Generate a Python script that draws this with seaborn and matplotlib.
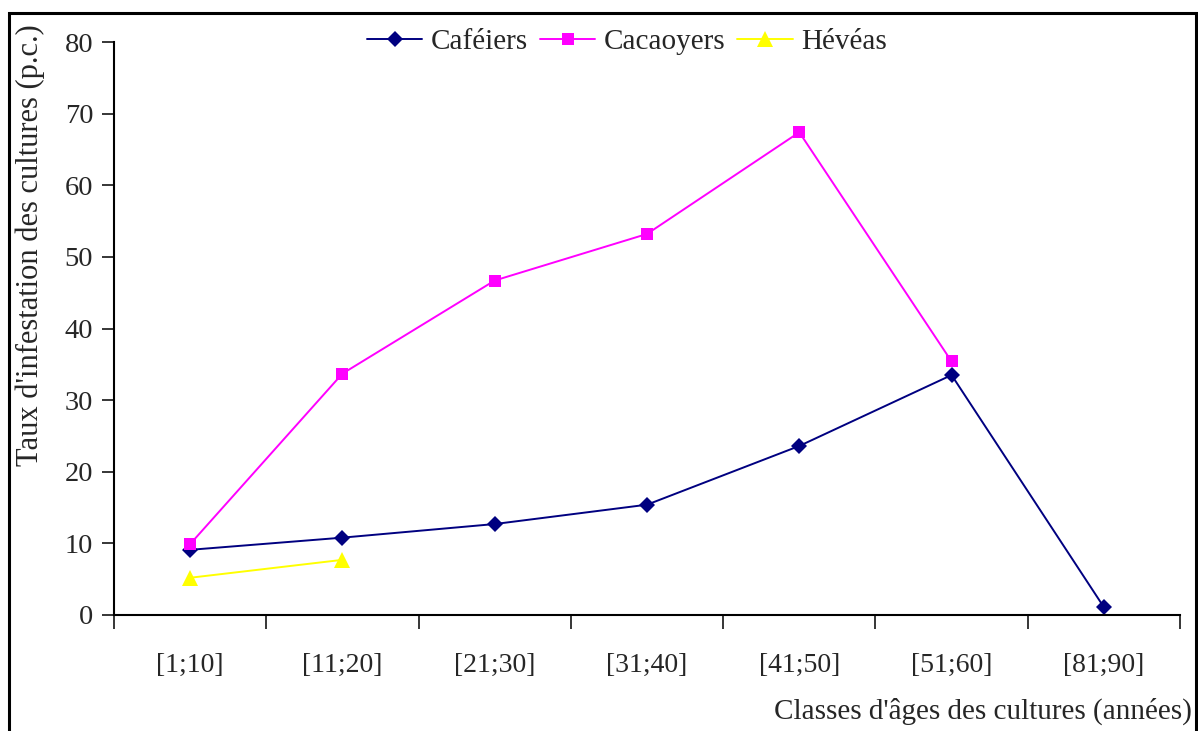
import numpy as np
import pandas as pd
import seaborn as sns
import matplotlib.pyplot as plt
from matplotlib.patches import Rectangle

# classes d'âges (catégories) et taux d'infestation
classes = ["[1;10]", "[11;20]", "[21;30]", "[31;40]", "[41;50]", "[51;60]", "[81;90]"]
cafeiers = [9.1, 10.8, 12.7, 15.4, 23.6, 33.5, 1.1]
cacaoyers = [9.9, 33.7, 46.7, 53.2, 67.4, 35.4, np.nan]
heveas = [5.2, 7.7, np.nan, np.nan, np.nan, np.nan, np.nan]
y_ticks = list(range(0, 81, 10))

series = {"Caféiers": cafeiers, "Cacaoyers": cacaoyers, "Hévéas": heveas}
rows = []
for name, vals in series.items():
    for i, v in enumerate(vals):
        if not np.isnan(v):
            rows.append({"pos": i, "classe": classes[i], "taux": v, "culture": name})
df = pd.DataFrame(rows)

sns.set_style("ticks")
plt.rcParams["font.family"] = ["Liberation Serif", "DejaVu Serif"]

fig = plt.figure(figsize=(11.98, 7.31), dpi=100)
ax = fig.add_axes([114 / 1198, 1 - 615 / 731, (1180 - 114) / 1198, (615 - 42) / 731])

palette = {"Caféiers": "#000080", "Cacaoyers": "#FF00FF", "Hévéas": "#FFFF00"}
markers = {"Caféiers": "D", "Cacaoyers": "s", "Hévéas": "^"}
msize = {"Caféiers": 8.5, "Cacaoyers": 8.5, "Hévéas": 11}
sns.lineplot(data=df, x="pos", y="taux", hue="culture", style="culture",
             palette=palette, markers=markers, dashes=False, linewidth=1.4,
             markeredgewidth=0, ax=ax, legend=False)
for line, name in zip(ax.get_lines(), series.keys()):
    line.set_markersize(msize[name])

ax.set_xlim(-0.5, len(classes) - 0.5)
ax.set_ylim(0, 80)
ax.set_yticks(y_ticks)
ax.set_yticklabels([str(t) for t in y_ticks], fontsize=20.5)

# ticks between categories, labels at the centre
ax.set_xticks(np.arange(-0.5, len(classes), 1.0))
ax.set_xticklabels([])
ax.set_xticks(np.arange(len(classes)), minor=True)
ax.set_xticklabels(classes, minor=True, fontsize=20)
ax.tick_params(axis="x", which="major", length=10, width=1.3, direction="out")
ax.tick_params(axis="x", which="minor", length=0, pad=27)
ax.tick_params(axis="y", length=9, width=1.3, direction="out", pad=6)
ax.set_xlabel("")
ax.set_ylabel("")
for side in ["top", "right"]:
    ax.spines[side].set_visible(False)
for side in ["left", "bottom"]:
    ax.spines[side].set_linewidth(1.5)
    ax.spines[side].set_color("black")

fig.text(30 / 1198, 1 - 245 / 731, "Taux d'infestation des cultures (p.c.)",
         rotation=90, ha="center", va="center", fontsize=22)
fig.text(1192 / 1198, 1 - 711 / 731, "Classes d'âges des cultures (années)",
         ha="right", va="center", fontsize=21)

handles = [plt.Line2D([], [], color=palette[n], marker=markers[n], lw=1.4,
                      markersize=msize[n], markeredgewidth=0) for n in series]
fig.legend(handles, list(series.keys()), loc="center", ncol=3, frameon=False,
           bbox_to_anchor=(627 / 1198, 1 - 42 / 731), fontsize=21,
           handlelength=1.9, handletextpad=0.3, columnspacing=0.4)

# cadre autour du graphique
fig.patches.append(Rectangle((9 / 1198, -0.05), (1196 - 9) / 1198, 1.05 - 13 / 731,
                             transform=fig.transFigure, fill=False,
                             edgecolor="black", linewidth=2.2, figure=fig))

fig.savefig("out.png", dpi=100)
